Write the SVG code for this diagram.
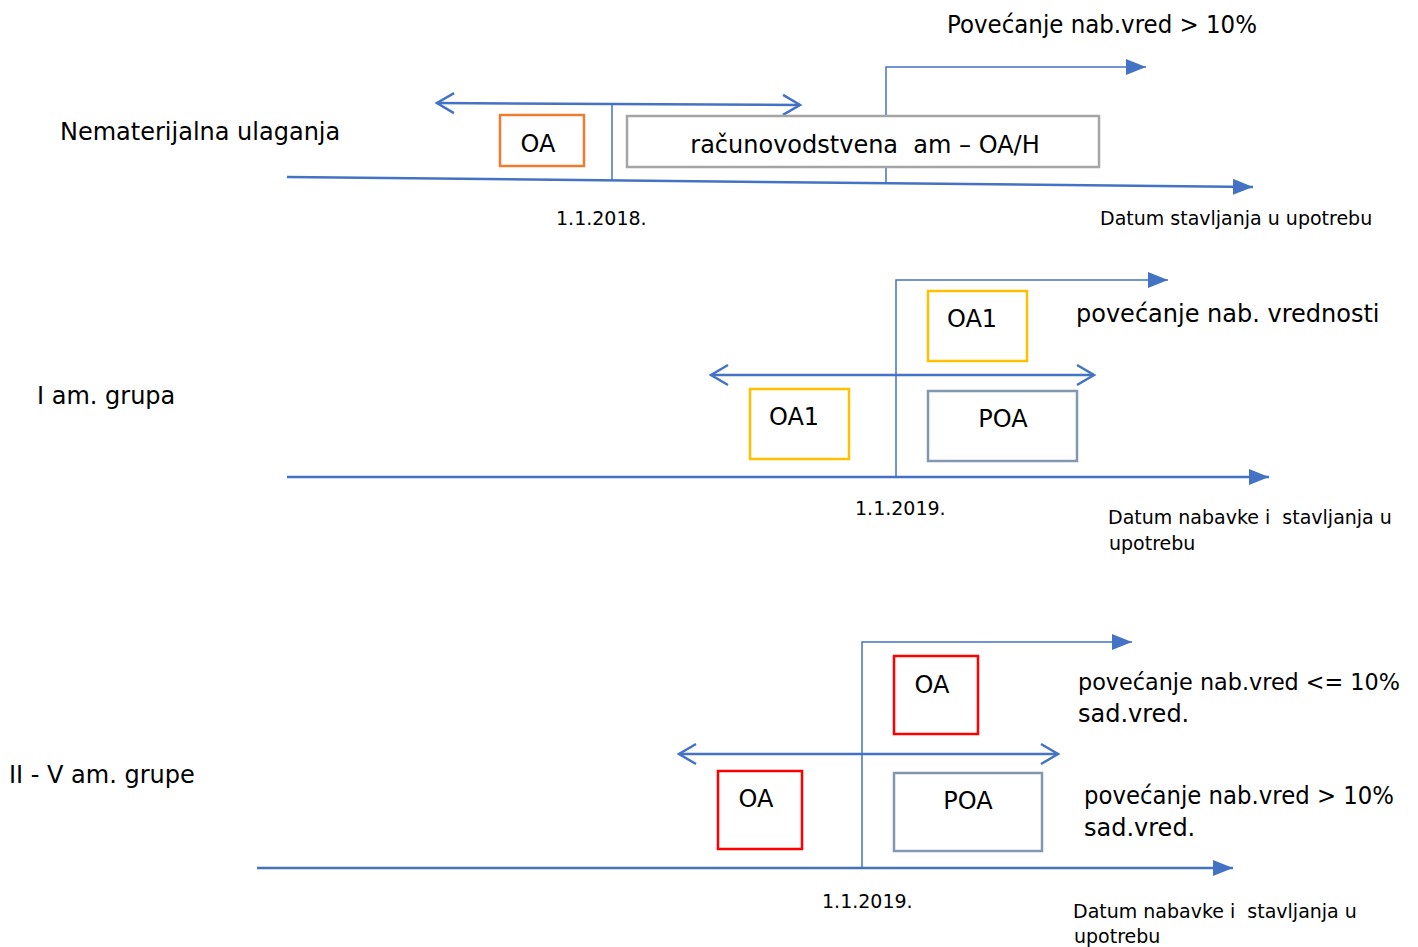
<svg xmlns="http://www.w3.org/2000/svg" width="1418" height="947" viewBox="0 0 1418 947">
<style>
text{font-family:"DejaVu Sans",sans-serif;fill:#000}
.big{font-size:24px}
.sm{font-size:19px}
.line{stroke:#4472C4;stroke-width:2.5;fill:none}
.thin{stroke:#4472C4;stroke-width:1.5;fill:none}
.box{fill:#fff;stroke-width:2.5}
</style>
<defs>
<marker id="tri" markerUnits="userSpaceOnUse" markerWidth="22" markerHeight="16" refX="20" refY="8" orient="auto">
<path d="M0,0 L20,8 L0,16 Z" fill="#4472C4"/>
</marker>
<marker id="chev" markerUnits="userSpaceOnUse" markerWidth="22" markerHeight="24" refX="19" refY="12" orient="auto-start-reverse">
<path d="M2,2 L19,12 L2,22" fill="none" stroke="#4472C4" stroke-width="2.5"/>
</marker>
</defs>
<g id="connectors">
<path class="line" d="M287,177 L1253,187" marker-end="url(#tri)"/>
<path class="line" d="M437,103 L800,105" marker-start="url(#chev)" marker-end="url(#chev)"/>
<path class="thin" d="M612,104 L612,180"/>
<path class="thin" d="M886,183 L886,67 L1146,67" marker-end="url(#tri)"/>

<path class="line" d="M287,477 L1269,477" marker-end="url(#tri)"/>
<path class="thin" d="M896,477 L896,280 L1168,280" marker-end="url(#tri)"/>
<path class="line" d="M711,375 L1094,375" marker-start="url(#chev)" marker-end="url(#chev)"/>

<path class="line" d="M257,868 L1233,868" marker-end="url(#tri)"/>
<path class="thin" d="M862,868 L862,642 L1132,642" marker-end="url(#tri)"/>
<path class="line" d="M679,754 L1058,754" marker-start="url(#chev)" marker-end="url(#chev)"/>
</g>
<g id="labels">
<text class="big" x="60" y="140">Nematerijalna ulaganja</text>
<text class="big" x="947" y="33" textLength="310" lengthAdjust="spacingAndGlyphs">Povećanje nab.vred &gt; 10%</text>
<text class="sm" x="556" y="225">1.1.2018.</text>
<text class="sm" x="1100" y="225">Datum stavljanja u upotrebu</text>

<text class="big" x="37" y="404">I am. grupa</text>
<text class="big" x="1076" y="322">povećanje nab. vrednosti</text>
<text class="sm" x="855" y="515">1.1.2019.</text>
<text class="sm" x="1108" y="524" xml:space="preserve">Datum nabavke i  stavljanja u</text>
<text class="sm" x="1109" y="550">upotrebu</text>

<text class="big" x="9" y="783">II - V am. grupe</text>
<text x="1078" y="690" font-size="23" textLength="322" lengthAdjust="spacingAndGlyphs">povećanje nab.vred &lt;= 10%</text>
<text class="big" x="1078" y="722">sad.vred.</text>
<text class="big" x="1084" y="804" textLength="310" lengthAdjust="spacingAndGlyphs">povećanje nab.vred &gt; 10%</text>
<text class="big" x="1084" y="836">sad.vred.</text>
<text class="sm" x="822" y="908">1.1.2019.</text>
<text class="sm" x="1073" y="918" xml:space="preserve">Datum nabavke i  stavljanja u</text>
<text class="sm" x="1074" y="943">upotrebu</text>
</g>
<g id="n1-oa"><rect class="box" x="500" y="115" width="84" height="51" stroke="#ED7D31"/><text class="big" x="538" y="152" text-anchor="middle">OA</text></g>
<g id="n1-am"><rect class="box" x="627" y="116" width="472" height="51" stroke="#A5A5A5" stroke-width="3"/><text class="big" x="865" y="153" text-anchor="middle" xml:space="preserve">računovodstvena  am – OA/H</text></g>

<g id="n2-oa1-top"><rect class="box" x="928" y="291" width="99" height="70" stroke="#FFC000"/><text class="big" x="972" y="327" text-anchor="middle">OA1</text></g>
<g id="n2-oa1-left"><rect class="box" x="750" y="389" width="99" height="70" stroke="#FFC000"/><text class="big" x="794" y="425" text-anchor="middle">OA1</text></g>
<g id="n2-poa"><rect class="box" x="928" y="391" width="149" height="70" stroke="#8497B0"/><text class="big" x="1003" y="427" text-anchor="middle">POA</text></g>

<g id="n3-oa-top"><rect class="box" x="894" y="656" width="84" height="78" stroke="#FF0000"/><text class="big" x="932" y="693" text-anchor="middle">OA</text></g>
<g id="n3-oa-left"><rect class="box" x="718" y="771" width="84" height="78" stroke="#FF0000"/><text class="big" x="756" y="807" text-anchor="middle">OA</text></g>
<g id="n3-poa"><rect class="box" x="894" y="773" width="148" height="78" stroke="#8497B0"/><text class="big" x="968" y="809" text-anchor="middle">POA</text></g>
</svg>
